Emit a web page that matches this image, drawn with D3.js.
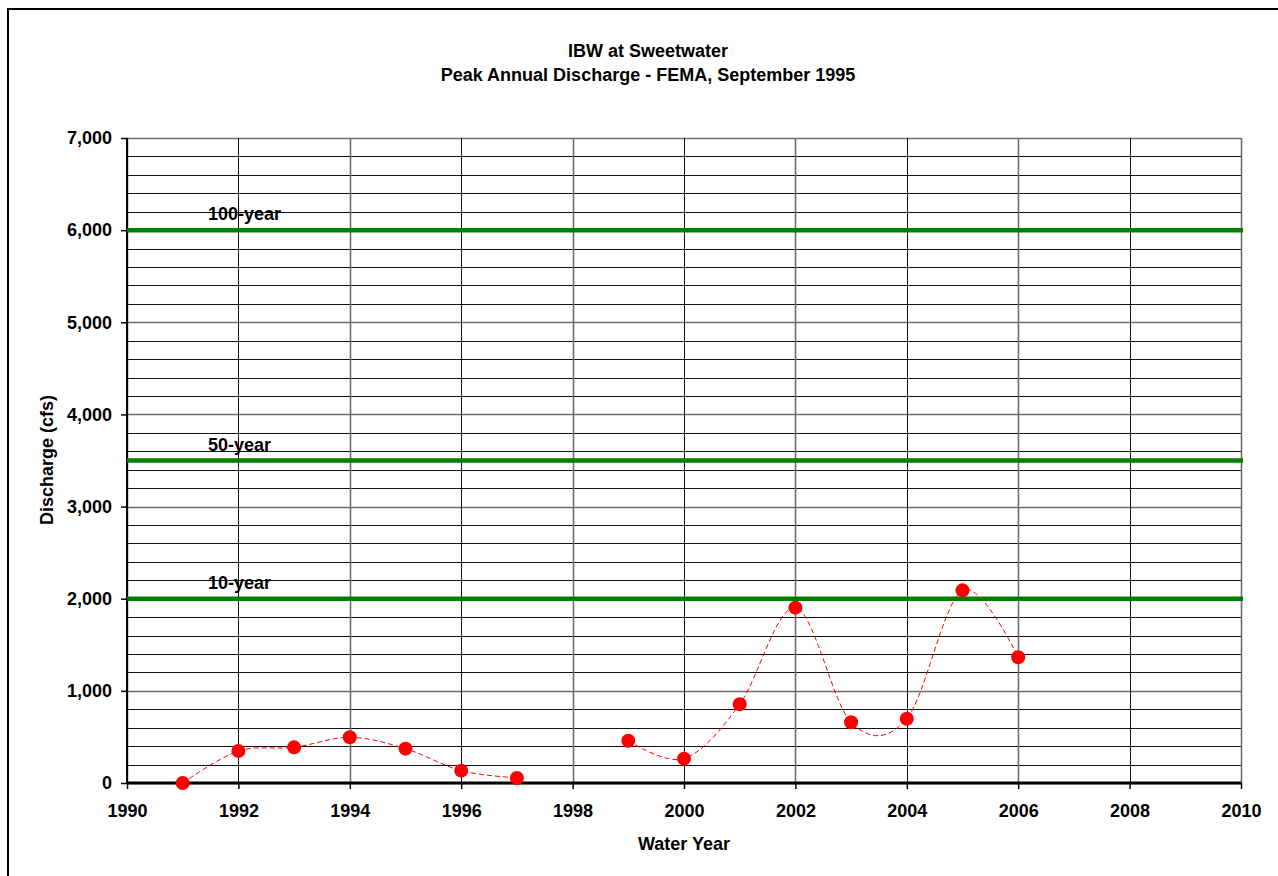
<!DOCTYPE html>
<html><head><meta charset="utf-8">
<script src="https://cdn.jsdelivr.net/npm/d3@7"></script>
<style>body{margin:0;background:#fff}svg{display:block}text{font-family:"Liberation Sans",Arial,sans-serif;font-weight:bold}</style>
</head><body><svg id="c" width="1278" height="876"></svg>
<script>
const years = [1991,1992,1993,1994,1995,1996,1997,1998,1999,2000,2001,2002,2003,2004,2005,2006];
const discharge = [0,347,387,496,373,134,55,null,459,264,854,1903,659,698,2091,1364];
const floodLevels = [6000,3500,2000];
const floodLabels = ["100-year","50-year","10-year"];
const xTicks = [1990,1992,1994,1996,1998,2000,2002,2004,2006,2008,2010];
const yTicks = [0,1000,2000,3000,4000,5000,6000,7000];
const yMinor = d3.range(0,7001,200);
const titleLines = ["IBW at Sweetwater","Peak Annual Discharge - FEMA, September 1995"];

const FS = 18;
const svg = d3.select("#c");
const L=127,R=1241,T=138,B=783;
const x = d3.scaleLinear().domain([1990,2010]).range([L,R]);
const y = d3.scaleLinear().domain([0,7000]).range([B,T]);

svg.append("rect").attr("x",8).attr("y",9).attr("width",1300).attr("height",900)
  .attr("fill","none").attr("stroke","#000").attr("stroke-width",2);

// grid
svg.append("g").selectAll("line").data(yMinor).join("line")
  .attr("x1",L).attr("x2",R).attr("y1",d=>Math.round(y(d))+0.5).attr("y2",d=>Math.round(y(d))+0.5)
  .attr("stroke",d=>d%1000===0?"#6e6e6e":"#111").attr("stroke-width",d=>d%1000===0?1.4:1);
svg.append("g").selectAll("line").data(xTicks).join("line")
  .attr("y1",T).attr("y2",B).attr("x1",d=>Math.round(x(d))+0.5).attr("x2",d=>Math.round(x(d))+0.5)
  .attr("stroke",(d,i)=>i%2===0?"#6e6e6e":"#111").attr("stroke-width",(d,i)=>i%2===0?1.6:1);

// axes
const yAxis = svg.append("g").attr("transform",`translate(${L},0)`)
  .call(d3.axisLeft(y).tickValues(yTicks).tickSize(6).tickPadding(9).tickFormat(d3.format(",")));
const xAxis = svg.append("g").attr("transform",`translate(0,${B})`)
  .call(d3.axisBottom(x).tickValues(xTicks).tickSize(6).tickPadding(15).tickFormat(d3.format("d")));
[yAxis,xAxis].forEach(a=>{
  a.select(".domain").remove();
  a.selectAll("line").attr("stroke","#000").attr("stroke-width",1.5);
  a.selectAll("text").attr("font-size",FS).attr("fill","#000").style("font-family","'Liberation Sans',Arial,sans-serif").style("font-weight","bold");
});
svg.append("line").attr("x1",L).attr("x2",L).attr("y1",T).attr("y2",B).attr("stroke","#000").attr("stroke-width",2);
svg.append("line").attr("x1",L).attr("x2",R).attr("y1",B).attr("y2",B).attr("stroke","#000").attr("stroke-width",3);

// flood levels
floodLevels.forEach((v,i)=>{
  svg.append("line").attr("x1",L).attr("x2",R+2).attr("y1",y(v)).attr("y2",y(v))
    .attr("stroke","#008000").attr("stroke-width",4.5);
  svg.append("text").attr("x",208).attr("y",y(v)-10).attr("font-size",FS).attr("fill","#000").text(floodLabels[i]);
});

// series
const pts = years.map((yr,i)=>({yr,v:discharge[i]}));
const line = d3.line().defined(d=>d.v!==null).x(d=>x(d.yr)).y(d=>y(d.v)).curve(d3.curveCardinal.tension(0));
svg.append("path").attr("d",line(pts)).attr("fill","none").attr("stroke","#ff0000")
  .attr("stroke-width",1).attr("stroke-dasharray","5,3");
svg.append("g").selectAll("circle").data(pts.filter(d=>d.v!==null)).join("circle")
  .attr("cx",d=>x(d.yr)).attr("cy",d=>y(d.v)).attr("r",7).attr("fill","#ff0000");

// titles
titleLines.forEach((t,i)=>svg.append("text").attr("x",648).attr("y",57+i*24).attr("text-anchor","middle")
  .attr("font-size",FS).text(t));
svg.append("text").attr("x",684).attr("y",850).attr("text-anchor","middle").attr("font-size",FS).text("Water Year");
svg.append("text").attr("transform","translate(53,460) rotate(-90)").attr("text-anchor","middle").attr("font-size",FS).text("Discharge (cfs)");
</script></body></html>
